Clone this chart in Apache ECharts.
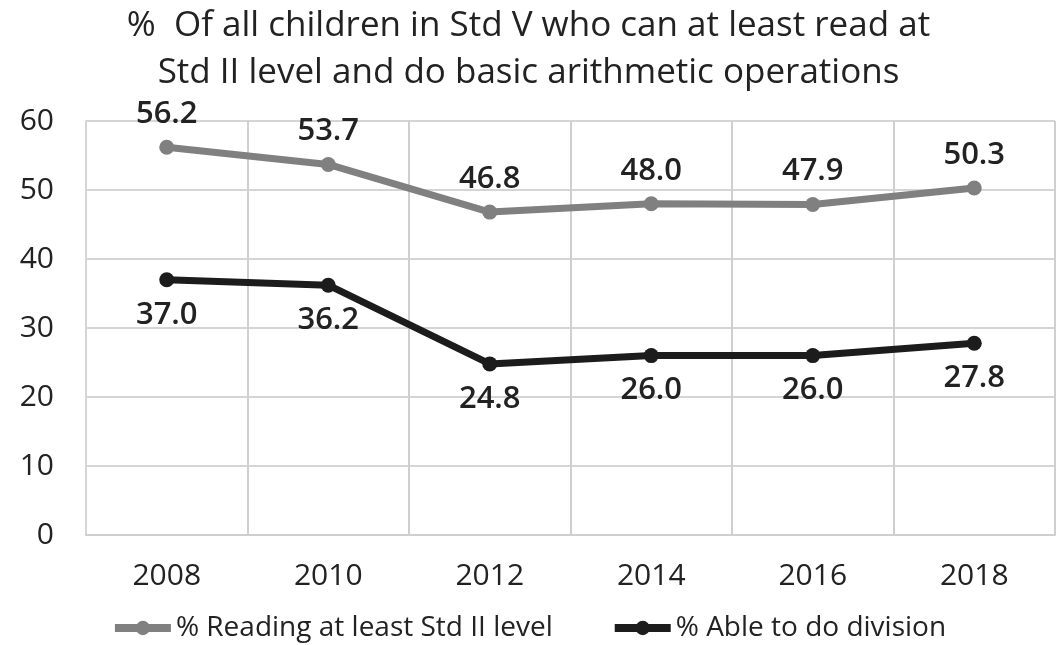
<!DOCTYPE html>
<html>
<head>
<meta charset="utf-8">
<script src="https://cdn.jsdelivr.net/npm/echarts@6/dist/echarts.min.js"></script>
<style>
  html, body { margin: 0; padding: 0; background: #fff; }
  #chart { width: 1057px; height: 645px; }
</style>
</head>
<body>
<div id="chart"></div>
<script>
var years = ['2008', '2010', '2012', '2014', '2016', '2018'];
var readingVals = [56.2, 53.7, 46.8, 48.0, 47.9, 50.3];
var divisionVals = [37.0, 36.2, 24.8, 26.0, 26.0, 27.8];
var yTicks = [0, 10, 20, 30, 40, 50, 60];

var myChart = echarts.init(document.getElementById('chart'));
var font = '"Open Sans", Lato, sans-serif';

var option = {
    backgroundColor: '#fff',
    textStyle: { fontFamily: font },
    title: {
        text: '%  Of all children in Std V who can at least read at\nStd II level and do basic arithmetic operations',
        left: 'center',
        top: -2,
        textStyle: { fontFamily: font, fontSize: 35, fontWeight: 'normal', color: '#222', lineHeight: 47 }
    },
    grid: { left: 86, right: 2, top: 121, bottom: 110 },
    legend: {
        bottom: -2,
        left: 'center',
        itemWidth: 56,
        itemHeight: 18,
        itemGap: 58,
        lineStyle: { width: 8 },
        textStyle: { fontFamily: font, fontSize: 28, color: '#222' },
        data: ['% Reading at least Std II level', '% Able to do division']
    },
    xAxis: {
        type: 'category',
        data: years,
        boundaryGap: true,
        axisLine: { lineStyle: { color: '#cfcfcf', width: 2 } },
        axisTick: { show: false },
        axisLabel: { fontSize: 30, color: '#222', margin: 26, fontFamily: font },
        splitLine: { show: true, lineStyle: { color: '#cfcfcf', width: 2 } }
    },
    yAxis: {
        type: 'value',
        min: yTicks[0],
        max: yTicks[yTicks.length - 1],
        interval: 10,
        axisLine: { show: true, lineStyle: { color: '#d5d5d5', width: 2 } },
        axisTick: { show: false },
        axisLabel: { fontSize: 30, color: '#222', margin: 32, fontFamily: font },
        splitLine: { lineStyle: { color: '#d5d5d5', width: 2 } }
    },
    series: [
        {
            name: '% Reading at least Std II level',
            type: 'line',
            data: readingVals,
            symbol: 'circle',
            symbolSize: 15,
            color: '#808080',
            lineStyle: { width: 7, color: '#808080' },
            label: {
                show: true, position: 'top', distance: 10,
                fontSize: 31, fontWeight: 600, color: '#222', fontFamily: font,
                formatter: function (p) { return p.value.toFixed(1); }
            }
        },
        {
            name: '% Able to do division',
            type: 'line',
            data: divisionVals,
            symbol: 'circle',
            symbolSize: 15,
            color: '#1c1c1c',
            lineStyle: { width: 7, color: '#1c1c1c' },
            label: {
                show: true, position: 'bottom', distance: 12,
                fontSize: 31, fontWeight: 600, color: '#222', fontFamily: font,
                formatter: function (p) { return p.value.toFixed(1); }
            }
        }
    ]
};

option && myChart.setOption(option);
</script>
</body>
</html>
